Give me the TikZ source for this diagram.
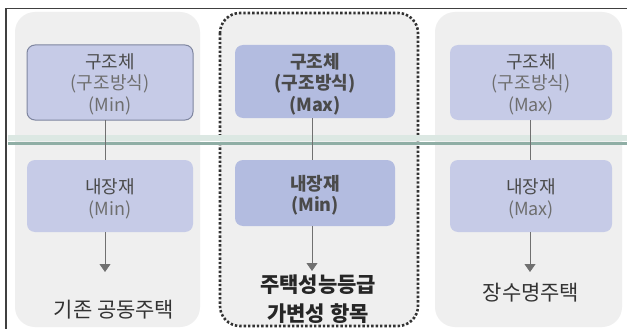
\documentclass[tikz,border=0pt]{standalone}
\usepackage{fontspec}
\setmainfont{Noto Sans CJK KR}
\usetikzlibrary{arrows.meta}
\definecolor{panelgray}{HTML}{EFEFEF}
\definecolor{boxblue}{HTML}{C6CBE7}
\definecolor{boxbluedark}{HTML}{B3BCE0}
\definecolor{boxedge}{HTML}{7F86A0}
\definecolor{txtdark}{HTML}{4A4A4A}
\definecolor{txtlight}{HTML}{6E6E6E}
\definecolor{teal}{HTML}{8FAEA5}
\definecolor{teallight}{HTML}{DCE8E3}
\definecolor{arrowgray}{HTML}{707070}
\begin{document}
\begin{tikzpicture}[x=1pt,y=-1pt,
  panel/.style={fill=panelgray, draw=none, rounded corners=20pt},
  dotpanel/.style={fill=panelgray, draw=black!80, line width=2.6pt, dash pattern=on 2.4pt off 2pt, rounded corners=20pt},
  sidebox/.style={fill=boxblue, draw=none, rounded corners=8pt},
  midbox/.style={fill=boxbluedark, draw=none, rounded corners=8pt},
  boxtxt/.style={align=center, font=\fontsize{18}{21.5}\selectfont, text=txtlight},
  midtxt/.style={align=center, font=\fontsize{18}{21.5}\selectfont\bfseries, text=txtdark},
  lbl/.style={align=center, font=\fontsize{21}{30}\selectfont, text=black!80},
  midlbl/.style={align=center, font=\fontsize{21}{29}\selectfont\bfseries, text=black!85},
  conn/.style={draw=arrowgray, line width=0.8pt},
  arr/.style={draw=arrowgray, line width=0.8pt, -{Triangle[width=11pt,length=8pt]}}
]
\useasboundingbox (0,0) rectangle (627,329);
\fill[white] (0,0) rectangle (627,329);
% outer frame
\draw[black!75, line width=1.3pt] (6,329) -- (6,8.5) -- (627,8.5);
% panels
\path[panel] (15,12) rectangle (200,327);
\draw[dotpanel] (220,13) rectangle (418,326);
\path[panel] (435,12) rectangle (622,327);
% green band
\fill[teallight] (8,135) rectangle (627,141);
\draw[teal, line width=3.5pt] (8,143.5) -- (627,143.5);
% left column
\path[sidebox, draw=boxedge, line width=1pt] (27,45) rectangle (193,120);
\node[boxtxt] (l1) at (110,84) {\textcolor{txtdark}{구조체}\\(구조방식)\\(Min)};
\path[sidebox] (27,160) rectangle (193,232);
\node[boxtxt] (l2) at (110,199) {\textcolor{txtdark}{내장재}\\(Min)};
\node[lbl] (l3) at (114,310) {기존 공동주택};
\coordinate (l1b) at (105,120);
\coordinate (l2t) at (105,160);
\coordinate (l2b) at (105,232);
\coordinate (l3t) at (105,272);
\draw[conn] (l1b) -- (l2t);
\draw[arr] (l2b) -- (l3t);
% middle column
\path[midbox] (235,45) rectangle (395,118);
\node[midtxt] (m1) at (315,84) {구조체\\(구조방식)\\(Max)};
\path[midbox] (235,160) rectangle (395,226);
\node[midtxt] (m2) at (315,195) {내장재\\(Min)};
\node[midlbl] (m3) at (318,299) {주택성능등급\\가변성 항목};
\coordinate (m1b) at (312,118);
\coordinate (m2t) at (312,160);
\coordinate (m2b) at (312,226);
\coordinate (m3t) at (312,271);
\draw[conn] (m1b) -- (m2t);
\draw[arr] (m2b) -- (m3t);
% right column
\path[sidebox] (450,45) rectangle (612,120);
\node[boxtxt] (r1) at (531,84) {\textcolor{txtdark}{구조체}\\(구조방식)\\(Max)};
\path[sidebox] (450,160) rectangle (612,232);
\node[boxtxt] (r2) at (531,199) {\textcolor{txtdark}{내장재}\\(Max)};
\node[lbl] (r3) at (531,293) {장수명주택};
\coordinate (r1b) at (530,120);
\coordinate (r2t) at (530,160);
\coordinate (r2b) at (530,232);
\coordinate (r3t) at (530,272);
\draw[conn] (r1b) -- (r2t);
\draw[arr] (r2b) -- (r3t);
\end{tikzpicture}
\end{document}
